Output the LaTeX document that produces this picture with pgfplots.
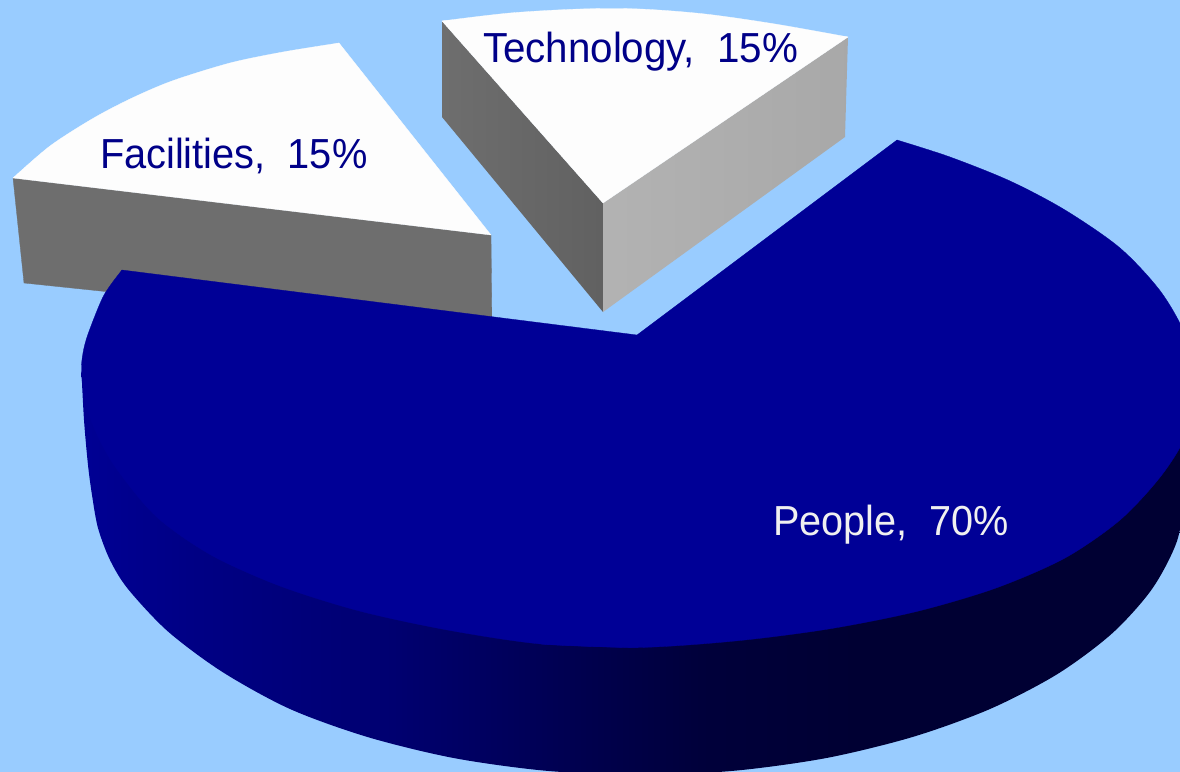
\documentclass[border=0pt]{standalone}
\usepackage{graphicx}
\usepackage{fontspec}
\setmainfont{Liberation Sans}
\usepackage{pgfplots}
\pgfplotsset{compat=1.18}

\definecolor{bgblue}{HTML}{99CCFF}
\definecolor{peopletop}{HTML}{000096}
\definecolor{facetop}{HTML}{FDFDFD}
\definecolor{darkface}{HTML}{6E6E6E}
\definecolor{labelblue}{HTML}{000088}
\definecolor{labelwhite}{HTML}{F0F0F0}

% rim of the large slice, lit from the left
\pgfdeclarehorizontalshading{peoplerim}{100bp}{
  rgb(0bp)=(0,0,0.58);
  rgb(25bp)=(0,0,0.58);
  rgb(30bp)=(0,0,0.52);
  rgb(39bp)=(0,0,0.44);
  rgb(48bp)=(0,0,0.30);
  rgb(53bp)=(0,0,0.23);
  rgb(60bp)=(0,0,0.20);
  rgb(100bp)=(0,0,0.20)}

\tikzset{
  solid face/.style={draw=#1, fill=#1, line width=0.3pt},
  slice label/.style={anchor=base west, inner sep=0pt, outer sep=0pt,
    font=\fontsize{42}{48}\selectfont},
}
\newcommand{\narrow}[2]{\scalebox{#1}[1]{#2}}

\begin{document}
\begin{tikzpicture}
\begin{axis}[
  width=1180pt, height=771pt, scale only axis,
  xmin=0, xmax=1180, ymin=0, ymax=771,
  y dir=reverse, hide axis, clip=true,
]
% background
\addplot[solid face=bgblue] coordinates {(0,0) (1180,0) (1180,771) (0,771)} -- cycle;

% Technology slice
\addplot[draw=none, shade, left color=darkface, right color=black!62] coordinates
  {(442,21) (603,203) (603,312) (442,117)} -- cycle;
\addplot[draw=none, shade, left color=black!30, right color=black!34] coordinates
  {(603,203) (848,37) (845,137) (603,312)} -- cycle;
\addplot[solid face=facetop, smooth] coordinates
  {(442,21) (510,13) (580,9) (640,9) (705,14) (775,24) (848,37)};
\addplot[solid face=facetop] coordinates {(442,21) (580,12) (848,37) (603,203)} -- cycle;

% Facilities slice
\addplot[solid face=darkface] coordinates
  {(13,178) (491,235) (492,332) (24,283)} -- cycle;
\addplot[solid face=facetop, smooth] coordinates
  {(13,178) (50,146) (92,119) (130,99) (172,81) (230,63) (283,52) (339,43)};
\addplot[solid face=facetop] coordinates {(13,178) (130,103) (339,43) (491,235)} -- cycle;

% People slice: rim
\addplot[draw=none, shade, shading=peoplerim, smooth] coordinates
  {(81.5,372) (84,420) (88,465) (92,495) (98,528) (110,560) (128,589) (168,631.5)
   (222.5,672) (290,709) (367.5,737) (453.6,758) (545.4,770.7) (640,775) (734.6,770.7)
   (826.4,758) (912.5,737) (990,709) (1057.5,674) (1112,633.5) (1152,589) (1177,541)
   (1185,492) (1190,440)};

% People slice: top face
\addplot[solid face=peopletop, smooth] coordinates
  {(897,140) (950,157) (1010,181) (1065,210) (1120,248) (1161,292) (1186.5,338)
   (1195,386) (1186.5,434) (1161,476) (1120,520) (1065,558) (996,588) (916.5,611.5)
   (828.5,629) (735,641) (638,647.5) (541,644)};
\addplot[solid face=peopletop, smooth] coordinates
  {(638,647.5) (541,644) (447.5,630) (359.5,611) (280,586) (211,555) (155.6,516)
   (114.6,466) (94,428) (84,395) (81.5,367) (84,348) (89.5,330) (104,295) (122,270)};
\addplot[solid face=peopletop] coordinates
  {(897,140) (1150,400) (900,605) (638,645) (360,606) (160,512) (92,400) (122,270) (637,335)} -- cycle;

% slice labels
\node[slice label, text=labelblue] at (axis cs:483,62) {\narrow{0.96}{Technology,\ \ 15\%}};
\node[slice label, text=labelblue] at (axis cs:100,168) {\narrow{0.947}{Facilities,\ \ 15\%}};
\node[slice label, text=labelwhite] at (axis cs:773,535) {\narrow{0.943}{People,\ \ 70\%}};
\end{axis}
\end{tikzpicture}
\end{document}
